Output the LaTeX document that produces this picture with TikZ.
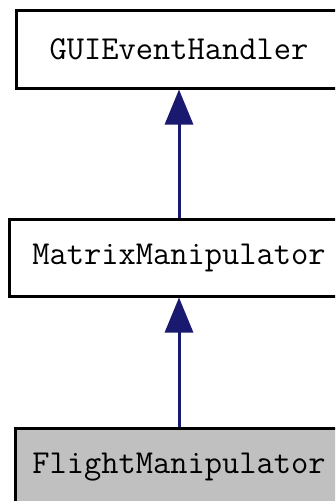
\documentclass[tikz,border=0pt]{standalone}
\usetikzlibrary{arrows.meta}
\tikzset{
  classbox/.style={draw=black,line width=3pt,minimum width=326pt,minimum height=78pt,
    inner sep=0pt,font=\fontsize{33.5}{40}\selectfont\ttfamily},
  inherit/.style={draw={rgb,255:red,25;green,25;blue,112},line width=3pt,
    -{Triangle[length=35pt,width=28pt]}}
}
\begin{document}
\begin{tikzpicture}[x=1pt,y=-1pt]
			\useasboundingbox (0,0) rectangle (335,501);
			\clip (0,0) rectangle (335,501);
			\fill[white] (0,0) rectangle (335,501);
			\node[classbox] (guieh) at (179,49) {GUIEventHandler};
			\node[classbox,minimum width=340pt,minimum height=77pt] (matrixmanip) at (179,257.5) {MatrixManipulator};
			\node[classbox,fill={rgb,255:red,192;green,192;blue,192},minimum width=328pt] (flightmanip) at (179,467) {FlightManipulator};
			\draw[inherit] (matrixmanip) -- (guieh);
			\draw[inherit] (flightmanip) -- (matrixmanip);
		\end{tikzpicture}
\end{document}
